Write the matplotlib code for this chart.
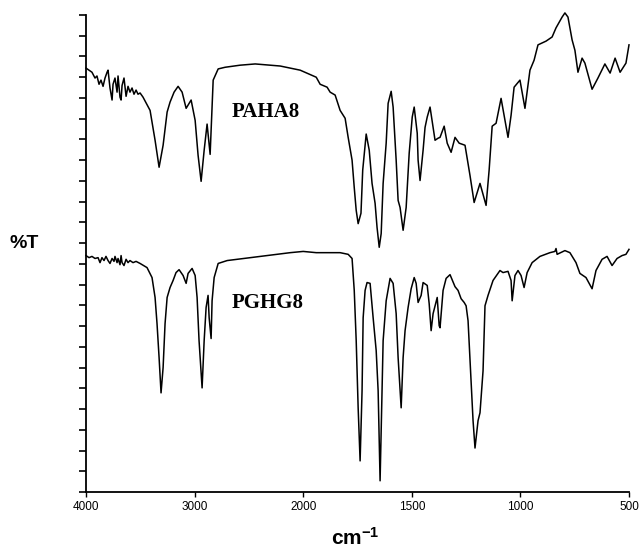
import numpy as np
import matplotlib
matplotlib.use("Agg")
import matplotlib.pyplot as plt

# ---- data: (wavenumber cm^-1, %T in offset units) ----
paha8_points = [
    (4000, 102.2), (3972, 101.7), (3945, 101.2), (3917, 99.8), (3899, 100.3), (3880, 98.3),
    (3862, 99.3), (3843, 97.8), (3825, 99.8), (3806, 101.2), (3797, 101.7), (3779, 97.4),
    (3760, 94.5), (3751, 98.3), (3733, 99.8), (3714, 96.4), (3705, 100.3), (3687, 95.2),
    (3677, 94.5), (3668, 98.0), (3650, 99.8), (3631, 95.4), (3613, 97.8), (3595, 96.4),
    (3576, 97.4), (3558, 95.9), (3539, 96.9), (3521, 95.9), (3502, 96.2), (3475, 95.2),
    (3410, 92.0), (3364, 84.8), (3327, 78.3), (3290, 83.6), (3253, 91.6), (3226, 94.0),
    (3189, 96.4), (3152, 97.8), (3115, 96.4), (3078, 92.5), (3032, 94.5), (2995, 89.6),
    (2968, 81.2), (2940, 74.9), (2912, 82.4), (2885, 88.7), (2857, 81.4), (2829, 99.3),
    (2783, 102.0), (2719, 102.4), (2581, 102.9), (2442, 103.2), (2212, 102.7), (2028, 101.7),
    (1940, 100.0), (1922, 98.3), (1890, 97.6), (1876, 96.4), (1853, 95.7), (1830, 92.0),
    (1807, 90.1), (1793, 85.5), (1775, 80.0), (1765, 73.4), (1756, 67.9), (1747, 64.7),
    (1734, 67.2), (1726, 77.6), (1710, 86.3), (1696, 82.4), (1683, 74.4), (1669, 69.6),
    (1660, 63.8), (1650, 59.0), (1641, 62.3), (1632, 74.4), (1618, 84.1), (1609, 93.7),
    (1595, 96.6), (1586, 92.8), (1572, 80.0), (1563, 70.3), (1554, 68.6), (1540, 63.1),
    (1526, 68.6), (1512, 81.7), (1498, 90.4), (1489, 92.8), (1475, 86.5), (1471, 80.0),
    (1462, 75.1), (1448, 82.4), (1439, 87.9), (1429, 90.4), (1416, 92.8), (1402, 87.9),
    (1393, 84.8), (1379, 85.3), (1370, 85.5), (1351, 88.2), (1337, 84.1), (1319, 81.9),
    (1301, 85.5), (1282, 84.1), (1255, 83.6), (1232, 76.3), (1213, 69.8), (1186, 74.4),
    (1158, 69.1), (1144, 77.6), (1130, 88.2), (1112, 88.9), (1089, 94.9), (1057, 85.5),
    (1043, 90.8), (1029, 97.6), (1002, 99.3), (979, 92.5), (956, 101.7), (937, 104.1),
    (919, 107.8), (882, 108.7), (854, 109.7), (836, 111.9), (808, 114.5), (795, 115.5),
    (781, 114.5), (762, 109.0), (749, 106.5), (735, 101.2), (716, 104.6), (703, 103.4),
    (670, 97.1), (643, 99.8), (611, 103.2), (587, 101.0), (564, 104.6), (541, 101.2),
    (514, 103.4), (500, 107.8),
]

pghg8_points = [
    (4000, 57.0), (3972, 56.5), (3945, 56.8), (3917, 56.3), (3889, 56.5), (3871, 55.3),
    (3853, 56.5), (3834, 55.8), (3816, 56.8), (3797, 55.8), (3779, 55.1), (3760, 56.3),
    (3742, 55.6), (3733, 56.8), (3714, 55.3), (3705, 56.3), (3687, 54.8), (3677, 57.0),
    (3668, 55.3), (3650, 54.6), (3631, 56.1), (3613, 55.3), (3595, 55.8), (3567, 55.3),
    (3539, 55.6), (3502, 55.1), (3438, 54.1), (3392, 51.7), (3364, 46.9), (3346, 40.6),
    (3327, 32.4), (3309, 23.9), (3290, 30.0), (3272, 40.6), (3253, 46.9), (3226, 49.3),
    (3198, 51.0), (3171, 52.9), (3143, 53.6), (3106, 52.2), (3078, 50.3), (3060, 52.7),
    (3023, 53.9), (2995, 52.2), (2977, 46.9), (2959, 36.5), (2931, 25.1), (2912, 36.5),
    (2894, 44.5), (2876, 47.4), (2866, 42.0), (2848, 37.0), (2839, 46.1), (2820, 51.7),
    (2783, 55.1), (2700, 55.8), (2396, 56.8), (2120, 57.7), (2000, 58.0), (1940, 57.7),
    (1922, 57.7), (1876, 57.7), (1830, 57.7), (1793, 57.3), (1775, 56.3), (1765, 48.6),
    (1756, 36.5), (1747, 20.3), (1738, 7.5), (1729, 24.4), (1724, 42.0), (1715, 48.6),
    (1706, 50.5), (1692, 50.3), (1678, 42.0), (1664, 34.1), (1655, 24.4), (1646, 2.7),
    (1637, 24.4), (1632, 36.5), (1618, 46.1), (1600, 51.5), (1586, 50.3), (1572, 43.0),
    (1563, 32.4), (1549, 20.3), (1540, 32.4), (1531, 38.9), (1517, 44.5), (1503, 49.0),
    (1489, 51.7), (1480, 50.3), (1471, 45.7), (1457, 47.4), (1448, 50.5), (1429, 49.8),
    (1420, 45.4), (1411, 38.9), (1402, 43.0), (1383, 46.9), (1374, 40.1), (1370, 39.6),
    (1356, 48.6), (1342, 51.5), (1324, 52.4), (1301, 49.5), (1287, 48.6), (1273, 46.6),
    (1259, 45.7), (1250, 44.9), (1241, 41.3), (1227, 26.8), (1218, 17.2), (1209, 10.6),
    (1195, 17.2), (1186, 19.1), (1172, 29.2), (1163, 44.9), (1149, 47.4), (1126, 51.0),
    (1094, 53.4), (1080, 52.9), (1057, 53.2), (1043, 51.0), (1038, 46.1), (1025, 52.2),
    (1011, 53.4), (997, 52.2), (983, 49.3), (969, 52.9), (946, 55.3), (910, 56.8),
    (864, 57.7), (841, 58.0), (836, 58.7), (831, 57.3), (795, 58.2), (772, 57.7),
    (744, 55.3), (726, 52.7), (698, 51.7), (670, 49.0), (652, 53.4), (624, 56.1),
    (601, 56.8), (578, 54.6), (555, 56.3), (532, 57.0), (514, 57.3), (500, 58.5),
]

x_ticks = [4000, 3000, 2000, 1500, 1000, 500]
series_labels = ["PAHA8", "PGHG8"]

paha8_wn, paha8_t = zip(*paha8_points)
pghg8_wn, pghg8_t = zip(*pghg8_points)

# ---- axis with 2x compression above 2000 cm^-1 ----
def fwd(x):
    x = np.asarray(x, dtype=float)
    return np.where(x > 2000, 2000 + (x - 2000) / 2.0, x)

def inv(y):
    y = np.asarray(y, dtype=float)
    return np.where(y > 2000, 2000 + (y - 2000) * 2.0, y)

plt.rcParams['mathtext.fontset'] = 'custom'
plt.rcParams['mathtext.bf'] = 'Liberation Sans:bold'
plt.rcParams['mathtext.rm'] = 'Liberation Sans:bold'

fig = plt.figure(figsize=(6.4, 5.49), dpi=100)
ax = fig.add_axes([86/640, 1 - 492/549, (629 - 86)/640, (492 - 15)/549])
ax.set_xscale('function', functions=(fwd, inv))

ax.plot(paha8_wn, paha8_t, color='black', lw=1.1, clip_on=False, solid_joinstyle='round')
ax.plot(pghg8_wn, pghg8_t, color='black', lw=1.1, clip_on=False, solid_joinstyle='round')

ax.set_xlim(4000, 500)
ax.set_ylim(0, 115)
ax.set_xticks(x_ticks)
ax.set_xticklabels([str(t) for t in x_ticks], fontfamily='Liberation Sans', fontsize=8.5)
ax.set_yticks(np.arange(0, 116, 5))
ax.set_yticklabels([])
ax.tick_params(axis='y', direction='out', length=5, width=1.2)
ax.tick_params(axis='x', direction='out', length=3.5, width=1.0, pad=3)
ax.minorticks_off()
for s in ['top', 'right']:
    ax.spines[s].set_visible(False)
ax.spines['left'].set_linewidth(1.3)
ax.spines['bottom'].set_linewidth(1.3)

fig.text(266/640, 1 - 112/549, series_labels[0], fontfamily='Liberation Serif',
         fontweight='bold', fontsize=15, ha='center', va='center')
fig.text(268/640, 1 - 303/549, series_labels[1], fontfamily='Liberation Serif',
         fontweight='bold', fontsize=15, ha='center', va='center')
fig.text(24/640, 1 - 243/549, '%T', fontfamily='Liberation Sans', fontweight='bold',
         fontsize=14, ha='center', va='center')
fig.text(355/640, 1 - 538/549, r'$\mathbf{cm^{-1}}$', fontsize=15, ha='center', va='center')

fig.savefig('out.png', dpi=100)
